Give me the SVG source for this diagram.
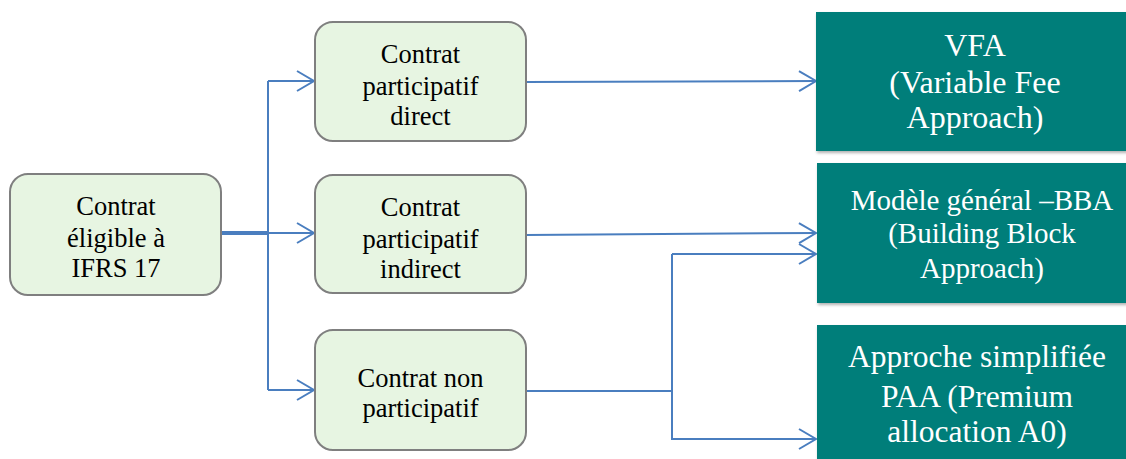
<svg xmlns="http://www.w3.org/2000/svg" width="1126" height="459" viewBox="0 0 1126 459">
  <style>
    .contract { fill: #E7F5E2; stroke: #7F7F7F; stroke-width: 2; }
    .method { fill: #027E7A; }
    .dark { font-family: "Liberation Serif", "Times New Roman", serif; font-size: 26.5px; fill: #000; text-anchor: middle; }
    .light { font-family: "Liberation Serif", "Times New Roman", serif; fill: #FFFFFF; text-anchor: middle; }
    .link { fill: none; stroke: #4A7EBF; stroke-width: 2; }
  </style>
  <defs>
    <marker id="chevron" markerUnits="userSpaceOnUse" markerWidth="24" markerHeight="24" viewBox="-20 -12 24 24" refX="0" refY="0" orient="auto">
      <path d="M -17 -10 L 0 0 L -17 10" fill="none" stroke="#4A7EBF" stroke-width="2"/>
    </marker>
    <filter id="shadow" x="-5%" y="-5%" width="115%" height="120%">
      <feDropShadow dx="1" dy="2" stdDeviation="1.5" flood-color="#000" flood-opacity="0.3"/>
    </filter>
  </defs>

  <!-- connectors -->
  <g id="connectors">
    <line x1="221" y1="233" x2="268" y2="233" stroke="#4A7EBF" stroke-width="4"/>
    <line class="link" x1="268" y1="81" x2="268" y2="390"/>
    <line class="link" x1="268" y1="81" x2="314" y2="81" marker-end="url(#chevron)"/>
    <line class="link" x1="268" y1="233" x2="314" y2="233" marker-end="url(#chevron)"/>
    <line class="link" x1="268" y1="390" x2="314" y2="390" marker-end="url(#chevron)"/>
    <line class="link" x1="526" y1="82" x2="816" y2="81" marker-end="url(#chevron)"/>
    <line class="link" x1="526" y1="235" x2="816" y2="233" marker-end="url(#chevron)"/>
    <line class="link" x1="526" y1="391" x2="672" y2="391"/>
    <polyline class="link" points="672,254 672,439 816,439" marker-end="url(#chevron)"/>
    <line class="link" x1="672" y1="254" x2="816" y2="254" marker-end="url(#chevron)"/>
  </g>

  <!-- source contract -->
  <g id="node-eligible">
    <rect class="contract" x="10" y="174" width="211" height="121" rx="18"/>
    <text class="dark" x="116" y="215">Contrat</text>
    <text class="dark" x="116" y="247">éligible à</text>
    <text class="dark" x="116" y="277">IFRS 17</text>
  </g>

  <!-- contract types -->
  <g id="node-direct">
    <rect class="contract" x="315" y="22" width="211" height="119" rx="18"/>
    <text class="dark" x="420.5" y="63">Contrat</text>
    <text class="dark" x="420.5" y="95">participatif</text>
    <text class="dark" x="420.5" y="125">direct</text>
  </g>
  <g id="node-indirect">
    <rect class="contract" x="315" y="175" width="211" height="118" rx="18"/>
    <text class="dark" x="420.5" y="215.5">Contrat</text>
    <text class="dark" x="420.5" y="247.5">participatif</text>
    <text class="dark" x="420.5" y="277.5">indirect</text>
  </g>
  <g id="node-non-participating">
    <rect class="contract" x="315" y="330" width="211" height="120" rx="18"/>
    <text class="dark" x="420.5" y="387">Contrat non</text>
    <text class="dark" x="420.5" y="417">participatif</text>
  </g>

  <!-- measurement models -->
  <g id="node-vfa">
    <rect class="method" x="816" y="12" width="318" height="139" filter="url(#shadow)"/>
    <text class="light" x="975" y="56" font-size="32">VFA</text>
    <text class="light" x="975" y="93" font-size="32">(Variable Fee</text>
    <text class="light" x="975" y="128" font-size="32">Approach)</text>
  </g>
  <g id="node-bba">
    <rect class="method" x="817" y="163" width="317" height="140" filter="url(#shadow)"/>
    <text class="light" x="982" y="210" font-size="29">Modèle général –BBA</text>
    <text class="light" x="982" y="243" font-size="29">(Building Block</text>
    <text class="light" x="982" y="278" font-size="29">Approach)</text>
  </g>
  <g id="node-paa">
    <rect class="method" x="817" y="325" width="317" height="140" filter="url(#shadow)"/>
    <text class="light" x="977" y="367" font-size="31.5">Approche simplifiée</text>
    <text class="light" x="977" y="407" font-size="31.5">PAA (Premium</text>
    <text class="light" x="977" y="442" font-size="31.5">allocation A0)</text>
  </g>
</svg>
